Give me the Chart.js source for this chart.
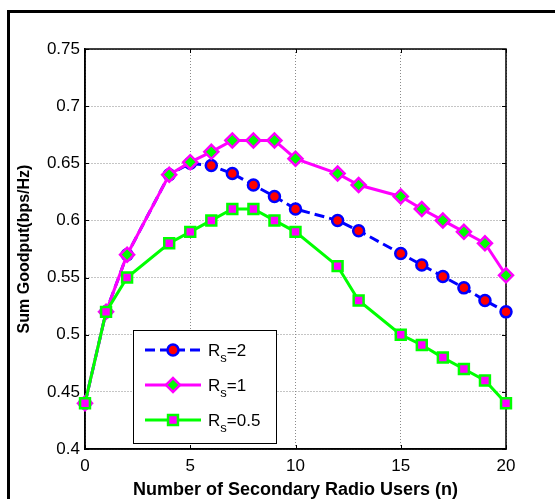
<!DOCTYPE html>
<html><head><meta charset="utf-8">
<script src="https://cdn.jsdelivr.net/npm/chart.js@4"></script>
<style>html,body{margin:0;padding:0;background:#fff;overflow:hidden}</style>
</head><body>
<canvas id="c" width="555" height="499"></canvas>
<script>
// ---- data ----
const users = [0,1,2,4,5,6,7,8,9,10,12,13,15,16,17,18,19,20];
const goodputRs2  = [0.44,0.52,0.57,0.64,0.65,0.648,0.641,0.631,0.621,0.61,0.60,0.591,0.571,0.561,0.551,0.541,0.53,0.52];
const goodputRs1  = [0.44,0.52,0.57,0.64,0.651,0.66,0.67,0.67,0.67,0.654,0.641,0.631,0.621,0.61,0.60,0.59,0.58,0.552];
const goodputRs05 = [0.44,0.52,0.55,0.58,0.59,0.60,0.61,0.61,0.60,0.59,0.56,0.53,0.50,0.491,0.48,0.47,0.46,0.44];
const seriesNames = ['2','1','0.5'];
const xTicks = [0,5,10,15,20];
const yTicks = [0.4,0.45,0.5,0.55,0.6,0.65,0.7,0.75];
const yTickLabels = ['0.4','0.45','0.5','0.55','0.6','0.65','0.7','0.75'];
const xTitle = 'Number of Secondary Radio Users (n)';
const yTitle = 'Sum Goodput(bps/Hz)';

const pts = (ys) => users.map((x,i)=>({x:x,y:ys[i]}));
const FONT = "'Liberation Sans', Arial, sans-serif";

const datasets = [
  {label:'Rs=2', data:pts(goodputRs2), borderColor:'#0000ff', borderWidth:3, borderDash:[10,5], clip:false,
   pointStyle:'circle', pointRadius:5.5, pointBorderWidth:2.5, pointBackgroundColor:'#ff0000', pointBorderColor:'#0000ff', order:2},
  {label:'Rs=1', data:pts(goodputRs1), borderColor:'#ff00ff', borderWidth:3, clip:false,
   pointStyle:'rectRot', pointRadius:7, pointBorderWidth:2.5, pointBackgroundColor:'#00ff00', pointBorderColor:'#ff00ff', order:1},
  {label:'Rs=0.5', data:pts(goodputRs05), borderColor:'#00ff00', borderWidth:3, clip:false,
   pointStyle:'rect', pointRadius:7, pointBorderWidth:2.5, pointBackgroundColor:'#ff00ff', pointBorderColor:'#00ff00', order:0}
];

const framePlugin = {
  id:'frame',
  beforeDraw(chart){
    const c = chart.ctx;
    c.save();
    c.fillStyle='#fff'; c.fillRect(0,0,chart.width,chart.height);
    c.fillStyle='#000';
    c.fillRect(7,10,chart.width-7,3);
    c.fillRect(7,10,3,chart.height-10);
    c.restore();
  },
  beforeDatasetsDraw(chart){
    const c = chart.ctx, a = chart.chartArea;
    const xs = chart.scales.x, ys = chart.scales.y;
    c.save();
    c.strokeStyle='#000'; c.lineWidth=1.5;
    c.strokeRect(a.left, a.top, a.right-a.left, a.bottom-a.top);
    c.lineWidth=1;
    c.beginPath();
    xTicks.forEach(v=>{const px=Math.round(xs.getPixelForValue(v))+0.5;
      c.moveTo(px,a.bottom); c.lineTo(px,a.bottom-4);
      c.moveTo(px,a.top); c.lineTo(px,a.top+4);});
    yTicks.forEach(v=>{const py=Math.round(ys.getPixelForValue(v))+0.5;
      c.moveTo(a.left,py); c.lineTo(a.left+4,py);
      c.moveTo(a.right,py); c.lineTo(a.right-4,py);});
    c.stroke();
    c.restore();
  },
  afterDatasetsDraw(chart){
    const c = chart.ctx;
    c.save();
    // legend
    const L = {x:133, y:330, w:143, h:113};
    c.fillStyle='#fff'; c.fillRect(L.x,L.y,L.w,L.h);
    c.strokeStyle='#000'; c.lineWidth=1; c.strokeRect(L.x+0.5,L.y+0.5,L.w,L.h);
    const rows=[350,385,420];
    datasets.forEach((d,i)=>{
      const y=rows[i];
      c.save();
      c.strokeStyle=d.borderColor; c.lineWidth=3; c.setLineDash(d.borderDash||[]);
      c.beginPath(); c.moveTo(145,y); c.lineTo(201,y); c.stroke();
      c.restore();
      c.fillStyle=d.pointBackgroundColor; c.strokeStyle=d.pointBorderColor; c.lineWidth=d.pointBorderWidth;
      c.beginPath();
      Chart.helpers.drawPoint(c,{pointStyle:d.pointStyle, radius:d.pointRadius, borderWidth:d.pointBorderWidth, rotation:0}, 173, y);
      c.fillStyle='#000'; c.textBaseline='alphabetic'; c.textAlign='left';
      c.font='17px '+FONT;
      c.fillText('R',208,y+6);
      const rw=c.measureText('R').width;
      c.font='13px '+FONT;
      c.fillText('s',208+rw,y+12);
      const sw=c.measureText('s').width;
      c.font='17px '+FONT;
      c.fillText('='+seriesNames[i],208+rw+sw,y+6);
    });
    c.restore();
  }
};

new Chart(document.getElementById('c'),{
  type:'line',
  data:{datasets:datasets},
  options:{
    responsive:false, animation:false, devicePixelRatio:1,
    layout:{padding:{left:0,top:49,right:49,bottom:0}},
    plugins:{legend:{display:false}, tooltip:{enabled:false}},
    elements:{line:{tension:0}},
    scales:{
      x:{type:'linear', min:0, max:20,
        afterBuildTicks:s=>{s.ticks=xTicks.map(v=>({value:v}));},
        afterFit:s=>{s.height=50;},
        grid:{color:'#8a8a8a', lineWidth:1, drawTicks:false},
        border:{display:true, color:'#000', width:1.5, dash:[1,2]},
        ticks:{color:'#000', padding:7, font:{family:FONT, size:17}, callback:v=>String(v), maxRotation:0},
        title:{display:true, text:xTitle, color:'#000', font:{family:FONT, size:18, weight:'bold', lineHeight:1}, padding:{top:0,bottom:0}}
      },
      y:{type:'linear', min:0.4, max:0.75,
        afterBuildTicks:s=>{s.ticks=yTicks.map(v=>({value:v}));},
        afterFit:s=>{s.width=85;},
        grid:{color:'#8a8a8a', lineWidth:1, drawTicks:false},
        border:{display:true, color:'#000', width:1.5, dash:[1,2]},
        ticks:{color:'#000', padding:5, font:{family:FONT, size:17},
          callback:(v)=>{const i=yTicks.findIndex(t=>Math.abs(t-v)<1e-9); return i>=0?yTickLabels[i]:'';}},
        title:{display:true, text:yTitle, color:'#000', font:{family:FONT, size:16, weight:'bold'}, padding:{top:15,bottom:0}}
      }
    }
  },
  plugins:[framePlugin]
});
</script>
</body></html>
